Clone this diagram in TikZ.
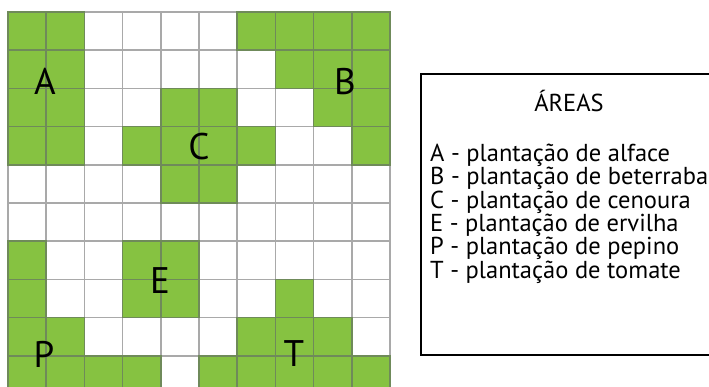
\documentclass[tikz,border=0pt]{standalone}
\usepackage{fontspec}
\setmainfont{PT Sans}
\usepackage{tikz}

\definecolor{leafgreen}{HTML}{86C241}
\definecolor{leafedge}{HTML}{6F8A5A}
\definecolor{gridgray}{HTML}{A9A9A9}

\tikzset{
  freecell/.style={draw=gridgray,fill=white,line width=1.6pt},
  cropcell/.style={draw=leafedge,fill=leafgreen,line width=1.6pt},
  arealabel/.style={anchor=base,inner sep=0pt,font=\fontsize{37}{37}\selectfont},
  legtext/.style={inner sep=0pt,font=\fontsize{24.5}{23.3}\selectfont}
}

\begin{document}
\begin{tikzpicture}[x=1pt,y=-1pt]
\useasboundingbox (0,0) rectangle (709,387);
\clip (0,0) rectangle (709,387);

% empty grid first
\foreach \r in {0,...,9}
  \foreach \c in {0,...,9}
    \draw[freecell] (8+38.2*\c,12+38.2*\r) rectangle ++(38.2,38.2);

% planted cells, row by row
\foreach \r/\cols in {0/{0,1,6,7,8,9},1/{0,1,7,8,9},2/{0,1,4,5,8,9},3/{0,1,3,4,5,6,9},
                      4/{4,5},6/{0,3,4},7/{0,3,4,7},8/{0,1,6,7,8},9/{0,1,2,3,5,6,7,8,9}}
  \foreach \c in \cols
    \draw[cropcell] (8+38.2*\c,12+38.2*\r) rectangle ++(38.2,38.2);

% area letters
\node[arealabel] (lblA) at (45,95) {A};
\node[arealabel] (lblB) at (345,95) {B};
\node[arealabel] (lblC) at (199,160) {C};
\node[arealabel] (lblE) at (160,293) {E};
\node[arealabel] (lblP) at (44,367) {P};
\node[arealabel] (lblT) at (294,366) {T};

% legend (base = baseline of the last line)
\draw[line width=2pt] (421,74) rectangle (715,355);
\node[legtext,anchor=base] (legtitle) at (569,112) {ÁREAS};
\node[legtext,align=left,anchor=base west] (legend) at (430,278.2)
  {A - plantação de alface\\
   B - plantação de beterraba\\
   C - plantação de cenoura\\
   E - plantação de ervilha\\
   P - plantação de pepino\\
   T - plantação de tomate};
\end{tikzpicture}
\end{document}
